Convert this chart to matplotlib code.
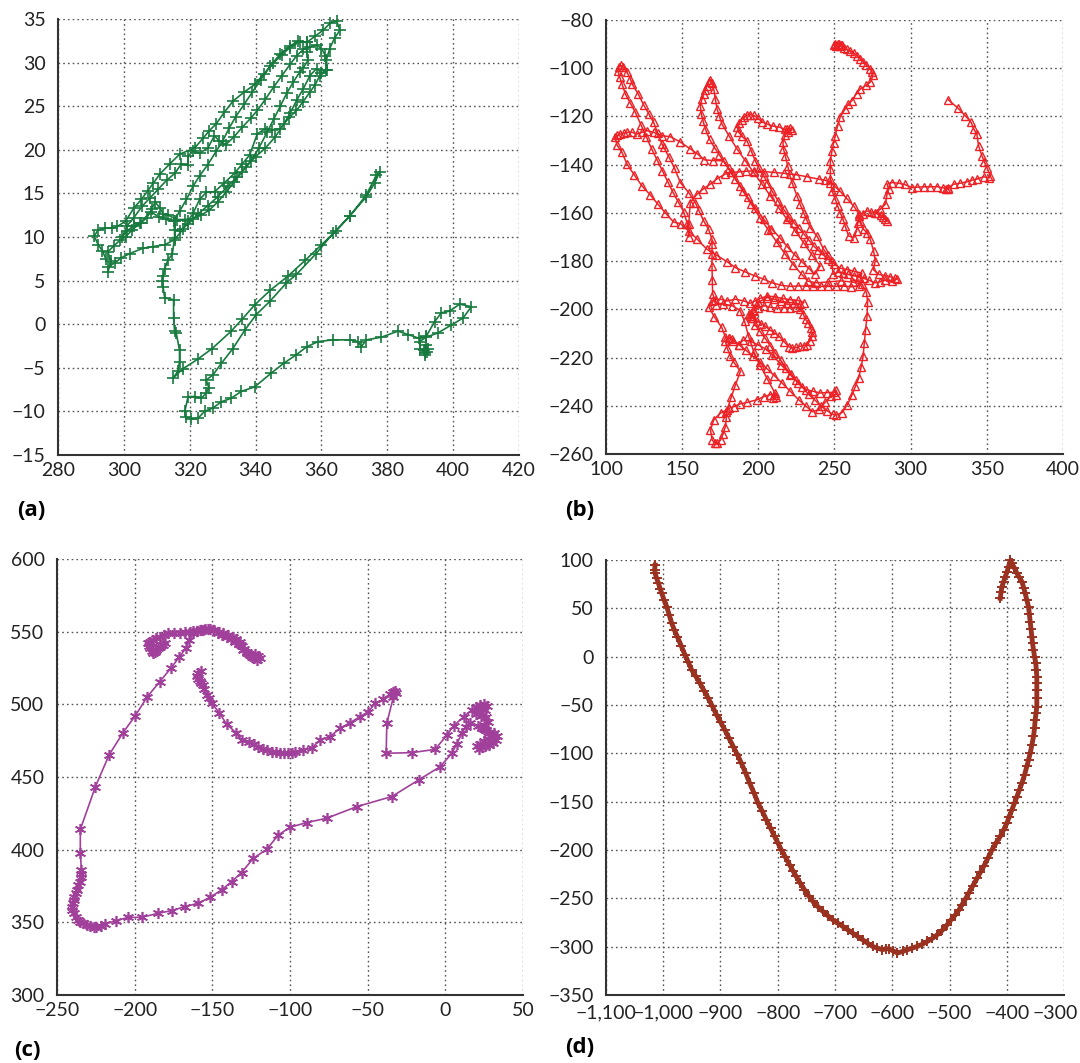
import matplotlib
matplotlib.use("Agg")
import matplotlib.pyplot as plt
import matplotlib.transforms as mtransforms
from matplotlib.ticker import FuncFormatter

plt.rcParams['font.family'] = ['Lato', 'DejaVu Sans']

# ---------------- panel (a) ----------------
a_x = [294.5, 293.5, 292.2, 291.0, 292.2, 294.4, 296.5, 298.0, 300.5, 303.0, 305.3, 307.3, 309.0, 310.9, 314.0,
       317.0, 321.5, 324.0, 326.0, 328.1, 330.5, 333.2, 336.5, 339.8, 342.5, 345.3, 348.0, 350.4, 353.4, 355.5,
       358.0, 360.5, 362.6, 364.6, 365.6, 364.0, 362.5, 361.5, 361.8, 359.5, 358.0, 356.5, 354.4, 352.4, 350.2,
       347.4, 345.0, 342.8, 340.5, 338.2, 336.0, 333.6, 330.5, 327.6, 325.0, 323.0, 321.0, 319.5, 318.0, 315.4,
       312.4, 308.8, 305.8, 301.8, 299.2, 297.2, 295.2, 295.2, 296.0, 295.2,
       297.0, 298.8, 300.5, 302.5, 305.0, 308.1, 310.6, 312.7, 315.2, 317.0, 319.0, 321.0, 323.0, 325.5, 328.0,
       330.0, 332.0, 334.0, 336.5, 339.0, 341.5, 344.5, 347.5, 350.5, 353.0, 355.5, 355.5, 356.0, 354.5, 353.4,
       351.5, 349.5, 347.5, 345.5, 343.5, 341.0, 338.5, 336.0, 333.5, 331.0, 328.5, 326.0, 323.5, 321.0, 318.5,
       316.0, 313.5, 312.0, 311.0, 309.5, 308.5, 307.0, 305.1, 303.0, 301.0, 299.5,
       301.0, 303.0, 305.5, 308.0, 310.5, 313.0, 315.5, 317.5, 319.5, 319.5, 321.0, 323.0, 325.5, 327.5, 329.0,
       331.0, 333.5, 336.0, 338.5, 340.5, 343.0, 345.5, 348.0, 350.5, 352.5, 354.5, 356.5, 358.5, 360.0, 361.2,
       361.5, 360.0, 358.5, 356.5, 354.5, 352.5, 350.5, 348.5, 346.0, 343.0, 340.0, 337.0, 334.5, 331.5, 328.5,
       325.5, 322.5, 319.5, 317.0, 315.4,
       315.4, 315.4, 314.7, 313.4, 312.4, 311.9, 311.7, 311.9, 312.4, 315.1, 315.1, 315.4, 315.9, 316.9, 316.9,
       316.4, 314.9,
       318.0, 322.5, 326.8, 332.6, 336.0, 339.7, 344.5, 349.8, 355.0, 360.0, 364.5, 368.6, 373.6, 376.7, 377.7,
       376.2, 373.6, 368.6, 363.5, 358.4, 352.4, 349.3, 344.3, 340.2, 336.7, 333.1, 329.6, 327.1, 325.0, 325.8,
       325.0, 323.5, 321.5, 319.5, 318.5, 318.8, 320.5, 322.5, 324.5, 327.1, 329.6, 332.6, 335.7, 339.7, 344.8,
       348.5, 352.4, 355.5, 359.0, 363.5, 368.6, 371.1, 372.1, 373.6, 378.2, 383.2, 386.3, 389.5, 391.8, 394.4,
       396.4, 398.9, 402.0, 405.5, 403.0, 399.4, 395.4, 391.8, 389.8, 390.0, 391.3, 392.3, 391.6, 391.0, 391.5,
       392.0]
a_y = [7.5, 8.4, 9.1, 10.1, 10.8, 11.0, 11.0, 11.2, 11.8, 13.3, 14.3, 15.3, 16.2, 17.2, 18.4,
       19.5, 20.2, 21.3, 22.2, 23.0, 24.3, 25.6, 26.6, 27.5, 28.7, 29.9, 30.9, 31.7, 32.4, 32.3,
       33.0, 33.7, 34.5, 34.8, 33.7, 32.8, 31.6, 30.3, 29.1, 28.5, 27.4, 26.6, 25.5, 24.5, 23.7,
       22.4, 22.3, 22.4, 21.8, 19.4, 18.4, 17.3, 16.2, 15.2, 15.1, 14.3, 12.7, 11.8, 10.9, 9.7,
       9.1, 8.9, 8.7, 8.1, 7.6, 7.0, 6.6, 6.0, 7.2, 8.3,
       9.0, 9.6, 10.0, 10.8, 11.6, 12.9, 12.3, 12.1, 11.8, 13.0, 14.3, 15.8, 17.0, 18.3, 19.8,
       21.0, 22.5, 23.8, 25.2, 26.6, 28.0, 29.6, 31.0, 31.9, 32.5, 32.3, 31.2, 30.3, 29.4, 28.9,
       27.8, 26.5, 25.0, 23.5, 22.0, 20.2, 18.7, 17.5, 16.3, 15.1, 14.0, 13.1, 12.5, 12.1, 12.0,
       12.0, 12.5, 12.6, 13.3, 14.0, 13.2, 12.2, 11.6, 11.3, 10.7, 10.0,
       11.3, 12.2, 13.5, 14.5, 15.5, 16.5, 17.3, 18.4, 18.2, 19.3, 19.8, 19.6, 20.2, 21.6, 21.0,
       20.6, 21.5, 22.6, 23.6, 24.5, 25.8, 27.2, 28.5, 29.8, 30.8, 31.5, 31.8, 32.0, 31.6, 30.8,
       29.1, 28.8, 29.3, 28.5, 27.0, 25.7, 24.2, 22.9, 21.5, 20.2, 19.2, 18.0, 16.9, 15.8, 14.6,
       13.6, 12.6, 11.5, 10.7, 10.8,
       11.8, 9.9, 8.0, 7.4, 6.3, 5.5, 4.9, 4.3, 3.0, 2.8, 0.7, -0.8, -1.0, -3.0, -4.3,
       -5.4, -6.2,
       -5.1, -4.0, -2.8, -0.8, 0.6, 2.2, 3.9, 5.5, 7.3, 9.1, 10.7, 12.4, 14.8, 17.1, 17.5,
       16.2, 14.6, 12.4, 10.4, 8.1, 5.7, 4.7, 2.6, 1.1, -0.7, -2.8, -4.5, -5.8, -6.4, -7.3,
       -7.9, -8.5, -8.3, -8.3, -10.0, -10.6, -10.9, -10.8, -10.0, -9.6, -8.9, -8.5, -7.7, -7.2, -5.6,
       -4.5, -3.5, -2.6, -2.0, -1.8, -1.8, -2.0, -2.6, -1.8, -1.5, -0.8, -1.2, -1.6, -1.4, 0.3,
       1.3, 1.5, 2.3, 2.0, 0.7, -0.1, -1.0, -1.5, -2.0, -2.8, -3.3, -2.9, -2.4, -3.0, -3.5,
       -3.2]

# ---------------- panel (b) ----------------
b_pts = [
    # start, right arc and back
    (324.5, -113.0), (331.0, -116.5), (336.0, -119.8), (339.8, -122.5), (341.4, -125.2), (343.5, -127.3),
    (344.6, -132.2), (346.8, -136.3), (348.5, -139.0), (350.1, -141.2), (352.3, -144.6), (351.5, -145.5),
    (347.9, -145.0), (343.5, -146.0), (340.0, -146.5), (337.0, -147.1), (332.6, -147.7), (328.2, -148.1),
    (324.5, -149.6), (323.5, -150.3), (324.6, -150.0), (321.0, -149.6), (317.3, -149.1), (312.5, -149.2),
    (308.5, -149.2), (304.5, -149.3), (300.9, -149.5), (296.0, -148.2), (292.1, -147.7), (287.7, -147.4),
    (284.5, -148.1), (285.6, -150.2), (284.5, -152.3), (283.4, -156.4), (280.1, -158.5), (276.8, -159.9),
    (280.5, -161.0), (283.4, -162.6), (284.5, -163.3), (282.0, -161.8), (278.0, -160.0), (274.0, -159.6),
    (271.3, -159.2), (268.5, -160.3), (266.0, -161.3), (267.0, -163.3), (269.1, -166.8), (271.3, -168.2),
    (273.5, -171.0), (275.7, -175.8), (276.8, -180.0), (275.5, -183.5),
    # right band
    (279.0, -185.5), (283.0, -186.0), (286.5, -186.5), (289.5, -187.0), (291.0, -187.5), (287.5, -188.2),
    (283.5, -187.8), (280.0, -188.6), (276.5, -189.0), (273.0, -188.0), (269.5, -187.2), (266.0, -186.5),
    (262.5, -186.0), (259.0, -185.5), (255.5, -185.0), (252.5, -184.6), (249.0, -185.5),
    # spoke up to the small cluster and the arc
    (248.4, -180.0), (245.5, -177.5), (242.9, -175.1), (238.5, -169.6), (234.1, -166.1), (231.5, -162.5),
    (229.8, -159.9), (227.5, -156.5), (225.4, -152.9), (222.1, -147.4), (220.5, -144.0), (219.3, -140.5),
    (217.7, -136.3), (216.5, -133.5), (216.2, -130.8), (217.5, -127.5), (218.8, -125.2), (220.5, -124.6),
    (221.8, -125.8), (219.8, -126.3), (217.5, -125.3), (213.5, -124.4), (209.5, -124.0), (206.0, -123.2),
    (202.5, -122.3), (199.5, -120.6), (197.0, -119.6), (194.5, -119.2), (192.5, -119.5), (190.5, -120.3),
    (189.0, -121.4), (187.5, -122.6), (186.3, -124.2), (186.8, -126.3),
    # spoke down
    (189.3, -128.3), (192.6, -130.1), (195.5, -134.5), (198.0, -138.4), (200.5, -141.5), (203.5, -144.6),
    (206.0, -147.5), (209.0, -150.9), (213.0, -155.0), (216.6, -158.5), (220.0, -161.5), (223.2, -164.0),
    (226.5, -166.3), (229.8, -168.6), (233.0, -171.2), (236.3, -173.7), (239.0, -175.3), (241.8, -177.0),
    (245.5, -179.0), (250.0, -181.0), (254.0, -183.0), (258.5, -183.5), (263.0, -184.2), (268.0, -185.0),
    # west along -190 and up to the left cluster
    (266.0, -190.2), (261.0, -190.6), (256.0, -190.4), (251.0, -190.5), (246.0, -190.3), (241.0, -190.5),
    (236.0, -190.4), (231.0, -190.4), (226.0, -190.3), (221.0, -190.5), (215.0, -190.0), (209.0, -189.0),
    (203.5, -187.5), (198.0, -186.2), (191.5, -184.5), (185.0, -182.7), (179.4, -180.2), (172.5, -177.5),
    (166.3, -175.1), (160.0, -171.0), (154.5, -167.5), (149.0, -164.5), (144.4, -163.8), (139.0, -160.0),
    (134.1, -156.4), (129.0, -152.5), (123.6, -148.8), (118.5, -144.2), (113.8, -139.8), (110.5, -134.9),
    (107.2, -131.9), (106.1, -128.7), (107.5, -127.8), (109.4, -127.3), (111.5, -127.0), (113.8, -126.6),
    (117.1, -126.6), (120.4, -127.3), (123.6, -126.6), (126.9, -125.9), (131.3, -126.6), (136.8, -128.0),
    (142.2, -128.4), (148.5, -130.5), (155.4, -133.5), (160.0, -135.5), (164.6, -138.0), (170.5, -138.3),
    (177.2, -138.4), (182.0, -143.2), (188.2, -148.8), (193.0, -153.5), (198.0, -157.8), (203.5, -162.6),
    (208.5, -166.5), (214.4, -170.5), (219.0, -174.0), (224.0, -177.5), (229.0, -180.5), (233.5, -183.2),
    (237.0, -185.5), (240.7, -182.0),
    # up to the second peak and down again
    (235.3, -177.5), (229.8, -172.4), (224.3, -167.5), (218.8, -162.6), (213.3, -157.8), (207.9, -152.9),
    (202.4, -148.0), (196.9, -143.2), (191.5, -138.4), (186.0, -133.5), (181.0, -128.3), (176.1, -123.1),
    (174.5, -120.0), (172.9, -116.9), (171.8, -112.8), (170.7, -108.6), (169.8, -106.0), (168.5, -104.8),
    (167.5, -105.6), (166.3, -107.2), (165.0, -109.0), (164.1, -110.5), (163.0, -112.8), (161.9, -115.5),
    (162.6, -119.0), (163.7, -121.8), (165.2, -125.2), (168.0, -129.5), (171.3, -133.0), (174.5, -136.0),
    (180.5, -141.5), (185.0, -146.0), (190.0, -151.0), (195.5, -156.5), (201.0, -162.0), (206.5, -167.0),
    (212.0, -172.0), (217.5, -177.0), (223.0, -181.5), (228.5, -185.5), (232.5, -188.3),
    # lower right loop
    (238.0, -189.0), (246.0, -188.6), (254.0, -188.2), (262.0, -188.7), (268.0, -189.5), (271.0, -193.0),
    (271.8, -197.0), (271.4, -202.8), (270.4, -208.5), (269.6, -214.0), (268.8, -219.4), (267.5, -224.0),
    (265.9, -228.5), (263.7, -232.0), (261.6, -235.4), (258.5, -239.5), (255.0, -242.8), (251.3, -243.8),
    (249.0, -243.6), (245.0, -242.0), (241.0, -240.0), (237.0, -237.5), (233.0, -235.2), (229.0, -232.3),
    (225.0, -229.5), (221.5, -227.0), (218.0, -224.2), (214.6, -221.0), (211.0, -218.0), (207.8, -215.0),
    (204.5, -212.0), (201.0, -209.0), (198.0, -206.5), (196.8, -203.5), (194.9, -201.4),
    # knot and small loop to the right
    (196.5, -200.3), (195.5, -202.8), (193.8, -202.0), (196.0, -203.5), (199.2, -204.8), (202.0, -206.0),
    (204.7, -207.0), (207.5, -208.5), (210.2, -209.7), (213.5, -211.1), (217.0, -213.5), (220.0, -215.5),
    (222.2, -216.0), (225.0, -215.8), (227.7, -215.3), (230.0, -215.0), (232.1, -214.6), (234.0, -213.0),
    (235.4, -211.1), (235.0, -209.3), (234.3, -207.6), (232.8, -205.5), (231.0, -204.2), (229.5, -202.0),
    (227.7, -200.0), (224.5, -199.2), (221.0, -199.5), (217.0, -199.3), (212.5, -199.5), (208.0, -199.2),
    (204.0, -198.5), (200.0, -199.5), (197.5, -200.5),
    # band at -196
    (200.0, -197.0), (205.8, -195.1), (210.2, -195.8), (214.6, -196.5), (218.9, -197.2), (223.3, -197.2),
    (227.7, -197.9), (229.9, -197.2), (226.0, -196.3), (221.0, -196.0), (216.0, -195.5), (211.0, -194.8),
    (206.0, -194.5), (201.0, -195.5), (198.1, -196.5), (194.5, -197.5), (190.5, -196.5), (185.0, -195.8),
    (179.5, -196.5), (175.2, -195.8), (171.5, -196.0), (169.7, -196.5), (167.5, -199.0),
    # lower loops and bottom tail
    (171.0, -203.0), (176.0, -207.5), (178.4, -211.5), (180.6, -211.8), (183.0, -212.5), (187.2, -214.6),
    (192.0, -217.0), (196.5, -219.5), (201.0, -222.0), (205.5, -224.5), (210.5, -227.5), (215.5, -230.5),
    (221.0, -234.0), (226.5, -237.5), (231.0, -240.0), (235.5, -242.5), (240.0, -241.5), (244.0, -238.5),
    (247.5, -236.0), (250.7, -235.4), (251.3, -233.6), (249.6, -234.4), (245.0, -234.5), (240.8, -234.7),
    (236.0, -234.0), (231.0, -233.3), (226.0, -230.5), (221.1, -227.1), (215.0, -223.0), (209.1, -218.8),
    (205.0, -216.5), (200.0, -214.8), (195.0, -213.3), (190.0, -212.8), (187.2, -214.6), (183.5, -213.0),
    (180.6, -211.8), (178.4, -213.2), (179.5, -216.0), (181.7, -219.4), (184.0, -222.0), (188.3, -225.7),
    (185.0, -231.3), (182.2, -236.5), (179.5, -241.7), (175.2, -243.0), (170.8, -245.8), (168.6, -250.0),
    (169.7, -254.2), (171.5, -255.5), (173.0, -255.6), (175.2, -254.2), (177.0, -251.5), (178.4, -248.6),
    (179.1, -244.5), (179.1, -242.4), (181.0, -241.0), (184.0, -240.3), (188.0, -239.2), (192.7, -238.6),
    (199.2, -237.5), (203.5, -236.2), (208.0, -235.4), (210.2, -235.5), (211.3, -236.4), (209.8, -236.8),
    (211.0, -234.8),
    # back up to the left column
    (206.0, -229.0), (201.0, -223.0), (197.0, -217.5), (193.5, -211.0), (191.0, -205.0), (188.0, -200.5),
    (183.0, -198.5), (177.0, -197.8), (172.5, -198.0), (170.0, -193.5), (169.8, -188.0), (169.6, -182.0),
    (169.6, -177.0), (169.6, -173.0), (169.6, -171.0),
    # first peak
    (167.4, -166.8), (164.1, -163.3), (161.0, -159.0), (158.6, -155.7), (154.3, -151.6), (148.8, -147.4),
    (145.0, -141.5), (141.5, -137.0), (137.9, -132.8), (136.8, -131.5), (134.0, -127.0), (131.3, -122.5),
    (128.0, -118.8), (124.7, -115.2), (121.0, -110.5), (117.1, -106.5), (116.0, -104.4), (113.8, -101.7),
    (111.2, -99.6), (109.8, -98.8), (108.3, -99.6), (107.8, -101.2), (109.0, -103.7), (110.5, -106.5),
    (112.7, -110.7), (116.0, -114.5), (119.3, -118.3), (123.0, -123.5), (126.5, -128.5), (130.0, -133.5),
    (133.5, -138.0), (137.0, -142.5), (140.5, -147.0), (144.0, -151.5), (147.5, -155.5), (151.0, -159.5),
    (153.5, -164.7), (154.3, -170.0),
    # arc over the middle
    (154.3, -164.7), (155.4, -155.7), (159.7, -152.3), (164.0, -150.0), (168.5, -148.1), (173.0, -145.8),
    (178.3, -143.9), (182.5, -143.2), (187.1, -143.0), (192.0, -142.7), (196.9, -142.6), (203.5, -142.9),
    (210.0, -143.2), (217.0, -143.6), (225.0, -144.2), (232.0, -145.0), (239.6, -146.0), (244.0, -146.5),
    (247.3, -147.4),
    # V loop and top cluster
    (250.5, -149.2), (253.8, -151.1), (258.0, -154.0), (262.6, -157.1), (265.9, -160.3), (265.3, -164.0),
    (264.5, -167.5), (262.6, -170.3), (259.3, -169.6), (257.0, -165.4), (255.5, -162.5), (253.8, -160.0),
    (252.0, -157.0), (250.5, -154.3), (248.4, -150.9), (247.3, -146.0), (247.3, -142.0), (247.3, -138.4),
    (248.4, -134.2), (249.5, -131.0), (250.5, -128.0), (252.0, -124.0), (253.8, -120.1), (257.0, -117.0),
    (259.0, -115.0), (261.5, -113.4), (264.5, -110.5), (267.0, -108.6), (271.0, -107.0), (273.5, -105.8),
    (275.3, -103.0), (274.5, -101.5), (273.5, -100.3), (271.0, -98.7), (269.0, -97.5), (267.0, -96.2),
    (265.0, -95.0), (262.5, -93.5), (260.4, -93.0), (258.5, -92.2), (256.5, -91.5), (255.0, -90.5),
    (253.5, -90.8), (252.0, -90.0), (250.5, -89.8), (249.5, -90.4), (251.0, -90.6), (252.8, -89.8),
    (254.0, -90.2),
]
b_x = [p[0] for p in b_pts]
b_y = [p[1] for p in b_pts]

# ---------------- panel (c) ----------------
c_pts = [
    (-157.5, 523.0), (-159.0, 521.5), (-160.0, 519.5), (-159.0, 517.5), (-158.0, 516.0), (-157.0, 514.5),
    (-156.0, 513.0), (-155.5, 510.5), (-153.5, 506.5), (-152.0, 504.0), (-150.5, 500.7), (-145.6, 494.3),
    (-140.8, 486.2), (-134.8, 480.5), (-131.2, 475.5), (-126.4, 474.3), (-123.0, 472.5), (-120.4, 470.9),
    (-117.5, 469.5), (-115.0, 468.6), (-111.8, 467.4), (-109.0, 467.0), (-106.5, 466.7), (-104.0, 466.5),
    (-101.1, 466.3), (-99.0, 466.5), (-96.8, 467.0), (-91.4, 468.6), (-86.1, 469.7), (-80.7, 475.5),
    (-74.2, 477.8), (-67.8, 483.5), (-61.3, 487.4), (-54.9, 491.5), (-49.5, 495.0), (-45.2, 500.7),
    (-39.9, 503.4), (-35.6, 507.1), (-33.5, 508.5), (-32.3, 509.4), (-31.5, 508.0), (-33.4, 505.3),
    (-37.7, 486.9), (-38.1, 466.3), (-21.6, 466.7), (-6.5, 469.0), (1.0, 478.9), (5.3, 485.1),
    (11.8, 491.5), (17.1, 496.1), (20.0, 498.0), (22.5, 499.5), (25.0, 500.5), (26.5, 499.0),
    (25.5, 496.0), (22.0, 494.5), (20.0, 493.0), (23.0, 492.0), (26.0, 491.0), (27.5, 488.0),
    (25.0, 486.0), (23.5, 484.0), (26.0, 482.0), (29.0, 481.0), (31.5, 480.0), (33.0, 478.0),
    (32.5, 475.5), (30.5, 473.5), (28.0, 472.0), (25.5, 471.0), (23.5, 470.5), (21.5, 469.5),
    (20.5, 471.0), (22.5, 473.0), (25.0, 474.5), (27.5, 476.0), (29.5, 478.0), (28.0, 480.5),
    (25.0, 483.0), (21.0, 485.0), (16.0, 487.0), (13.0, 484.5), (10.6, 480.0), (7.5, 473.0),
    (4.2, 466.3), (-3.3, 457.1), (-17.3, 447.9), (-34.5, 436.5), (-57.0, 429.6), (-76.4, 421.6),
    (-89.3, 418.6), (-100.0, 415.4), (-107.5, 410.1), (-115.0, 400.2), (-123.7, 394.0), (-131.2, 384.2),
    (-137.6, 378.0), (-144.1, 372.2), (-151.6, 367.2), (-159.1, 363.1), (-167.7, 360.8), (-176.3, 358.0),
    (-184.9, 356.2), (-195.6, 353.4), (-204.2, 353.4), (-211.8, 351.1), (-219.3, 348.9), (-222.0, 347.5),
    (-224.6, 346.6), (-226.5, 346.8), (-228.9, 347.5), (-231.0, 348.3), (-233.2, 349.3), (-235.0, 350.5),
    (-236.5, 351.6), (-238.0, 353.5), (-239.3, 356.7), (-240.1, 358.5), (-240.1, 360.8), (-239.8, 363.0),
    (-239.3, 365.4), (-238.8, 367.5), (-238.0, 370.0), (-237.3, 372.5), (-236.5, 375.7), (-235.5, 378.0),
    (-234.3, 381.0), (-234.5, 383.5), (-234.3, 386.0), (-235.0, 397.9), (-235.0, 413.9), (-225.3, 443.3),
    (-216.5, 465.1), (-207.5, 480.5), (-199.7, 492.0), (-191.8, 505.3), (-183.8, 515.6), (-176.7, 524.8),
    (-171.4, 532.3), (-167.1, 538.5), (-164.9, 544.3), (-162.3, 548.9), (-160.0, 550.3), (-157.0, 551.1),
    (-154.5, 551.8), (-151.6, 551.6), (-149.0, 550.8), (-146.2, 549.3), (-143.5, 548.0), (-140.8, 546.6),
    (-138.0, 545.0), (-135.5, 543.1), (-133.0, 541.5), (-131.2, 540.1), (-129.5, 538.0), (-128.0, 536.2),
    (-126.5, 534.5), (-124.7, 532.8), (-123.0, 531.5), (-121.5, 530.5), (-119.4, 531.7), (-120.5, 533.2),
    (-122.5, 534.5), (-125.8, 533.9), (-128.0, 535.5), (-130.1, 537.4), (-131.5, 540.5), (-132.3, 543.1),
    (-134.5, 545.0), (-136.6, 546.6), (-140.0, 547.5), (-143.0, 548.9), (-146.0, 550.0), (-149.5, 551.1),
    (-152.5, 551.5), (-155.9, 551.1), (-158.0, 551.0), (-160.2, 550.7), (-162.5, 550.5), (-164.5, 550.0),
    (-167.5, 549.5), (-170.9, 549.3), (-174.5, 549.0), (-178.4, 548.9), (-181.0, 547.8), (-183.8, 546.6),
    (-186.0, 545.5), (-188.1, 544.3), (-190.0, 543.0), (-191.3, 542.0), (-190.8, 540.0), (-190.2, 538.5),
    (-189.0, 536.5), (-188.1, 535.1), (-187.0, 536.3), (-186.0, 537.4), (-185.0, 538.5), (-183.8, 539.7),
    (-182.0, 541.0), (-180.5, 542.5),
]
c_x = [p[0] for p in c_pts]
c_y = [p[1] for p in c_pts]

# ---------------- panel (d) ----------------
d_pts = [
    (-1014.2, 94.8), (-1015.0, 90.0), (-1014.2, 86.2), (-1011.5, 81.0), (-1008.4, 75.9), (-1005.5, 70.5),
    (-1002.6, 65.5), (-998.5, 58.5), (-993.9, 51.8), (-989.5, 43.0), (-985.2, 34.5), (-980.5, 27.5),
    (-975.4, 20.7), (-968.5, 11.0), (-962.0, 1.8), (-956.0, -6.0), (-950.4, -13.7), (-943.0, -20.5),
    (-935.9, -27.5), (-928.5, -35.5), (-921.4, -43.0), (-914.0, -51.5), (-906.9, -60.2), (-899.5, -68.0),
    (-892.5, -75.7), (-885.0, -84.5), (-877.9, -93.0), (-870.5, -101.5), (-863.5, -110.2), (-856.0, -120.5),
    (-849.0, -130.9), (-841.5, -141.0), (-834.5, -151.5), (-827.0, -160.0), (-820.0, -168.8), (-812.5, -177.5),
    (-805.5, -186.0), (-799.5, -193.0), (-793.9, -199.8), (-786.5, -207.5), (-779.4, -215.3), (-773.5, -221.5),
    (-767.8, -227.4), (-760.5, -234.5), (-753.3, -241.1), (-746.0, -247.5), (-738.8, -253.2), (-730.0, -258.5),
    (-721.4, -263.5), (-712.5, -268.0), (-704.1, -272.2), (-695.5, -275.5), (-686.7, -279.0), (-678.0, -282.5),
    (-669.3, -285.9), (-660.5, -289.5), (-651.9, -292.8), (-643.0, -296.5), (-634.5, -299.7), (-626.0, -301.5),
    (-617.1, -303.2), (-611.0, -302.0), (-605.5, -302.5), (-598.0, -304.5), (-591.0, -306.6), (-582.0, -305.0),
    (-573.6, -303.2), (-565.0, -301.5), (-556.2, -299.7), (-547.5, -297.5), (-538.8, -294.6), (-530.0, -291.5),
    (-521.4, -287.7), (-512.5, -283.0), (-504.0, -277.3), (-497.0, -272.0), (-489.6, -267.0), (-483.5, -262.0),
    (-478.0, -256.6), (-472.0, -250.5), (-466.4, -244.6), (-459.0, -237.0), (-451.9, -229.1), (-446.0, -223.0),
    (-440.3, -217.0), (-433.0, -208.5), (-425.8, -199.8), (-418.5, -192.5), (-411.3, -186.0), (-405.5, -179.0),
    (-399.7, -172.2), (-395.5, -165.5), (-391.0, -158.4), (-386.5, -151.5), (-382.3, -144.7), (-378.0, -137.5),
    (-373.6, -130.9), (-369.0, -122.5), (-364.9, -113.6), (-362.0, -107.0), (-359.1, -99.9), (-356.0, -91.0),
    (-353.3, -82.6), (-351.5, -74.0), (-350.4, -65.4), (-349.0, -58.5), (-347.5, -51.6), (-347.5, -43.0),
    (-347.5, -34.4), (-347.5, -27.5), (-347.5, -20.6), (-348.5, -13.5), (-349.3, -6.8), (-351.5, 0.0),
    (-353.3, 7.0), (-355.0, 14.0), (-356.2, 20.7), (-357.5, 28.5), (-359.1, 36.3), (-360.5, 44.0),
    (-362.0, 51.8), (-365.0, 58.5), (-367.8, 65.5), (-370.5, 71.5), (-373.6, 77.6), (-378.0, 82.0),
    (-382.3, 86.2), (-386.5, 91.5), (-391.0, 96.6), (-393.9, 99.5), (-396.8, 93.1), (-399.5, 88.0),
    (-402.6, 82.8), (-405.5, 77.5), (-408.4, 72.4), (-410.0, 66.5), (-411.3, 60.4),
]
d_x = [p[0] for p in d_pts]
d_y = [p[1] for p in d_pts]

# ---------------- layout ----------------
fig = plt.figure(figsize=(10.8, 10.63), dpi=100)


def style(ax, xlim, ylim, xticks, yticks, fmt=None):
    ax.set_xlim(*xlim)
    ax.set_ylim(*ylim)
    ax.set_xticks(xticks)
    ax.set_yticks(yticks)
    if fmt is not None:
        ax.xaxis.set_major_formatter(fmt)
        ax.yaxis.set_major_formatter(fmt)
    ax.grid(True, linestyle=(0, (1.2, 2.2)), color='#555555', linewidth=1.0)
    ax.set_axisbelow(True)
    for s in ['top', 'right']:
        ax.spines[s].set_visible(False)
    for s in ['left', 'bottom']:
        ax.spines[s].set_color('#333333')
        ax.spines[s].set_linewidth(1.5)
    ax.tick_params(length=0, labelsize=14, colors='#222222')
    ax.tick_params(axis='y', pad=9)
    ax.tick_params(axis='x', pad=5)


ax1 = fig.add_axes([0.0537, 0.5720, 0.4269, 0.4102])
ax1.plot(a_x, a_y, color='#177a3e', lw=1.2, marker='+', ms=8, mew=1.2, clip_on=False)
style(ax1, (280, 420), (-15, 35), range(280, 421, 20), range(-15, 36, 5))

ax2 = fig.add_axes([0.5611, 0.5729, 0.4231, 0.4083])
ax2.plot(b_x, b_y, color='#ec2227', lw=1.1, marker='^', ms=6, mfc='none', mec='#ec2227', mew=1.0)
style(ax2, (100, 400), (-260, -80), range(100, 401, 50), range(-260, -79, 20))

ax3 = fig.add_axes([0.0528, 0.0640, 0.4315, 0.4102])
ax3.plot(c_x, c_y, color='#a0409a', lw=1.2, marker=(6, 2, 0), ms=8, mew=1.2)
style(ax3, (-250, 50), (300, 600), range(-250, 51, 50), range(300, 601, 50))

comma = FuncFormatter(lambda v, p: f"{v:,.0f}".replace('-', '\u2212'))
ax4 = fig.add_axes([0.5611, 0.0640, 0.4241, 0.4092])
ax4.plot(d_x, d_y, color='#9a3222', lw=3.5, marker='+', ms=7, mew=1.4, clip_on=False)
style(ax4, (-1100, -300), (-350, 100), range(-1100, -299, 100), range(-350, 101, 50), comma)
ax4.tick_params(axis='x', pad=7)
fig.canvas.draw()
last = ax4.get_xticklabels()[-1]
last.set_transform(last.get_transform() + mtransforms.ScaledTranslation(-0.09, 0, fig.dpi_scale_trans))

for txt, x, y in [('(a)', 0.016, 0.520), ('(b)', 0.523, 0.520), ('(c)', 0.013, 0.012), ('(d)', 0.523, 0.015)]:
    fig.text(x, y, txt, fontsize=16, fontweight='bold', family=['Open Sans', 'DejaVu Sans'],
             va='center', ha='left')

fig.savefig('out.png', dpi=100)
